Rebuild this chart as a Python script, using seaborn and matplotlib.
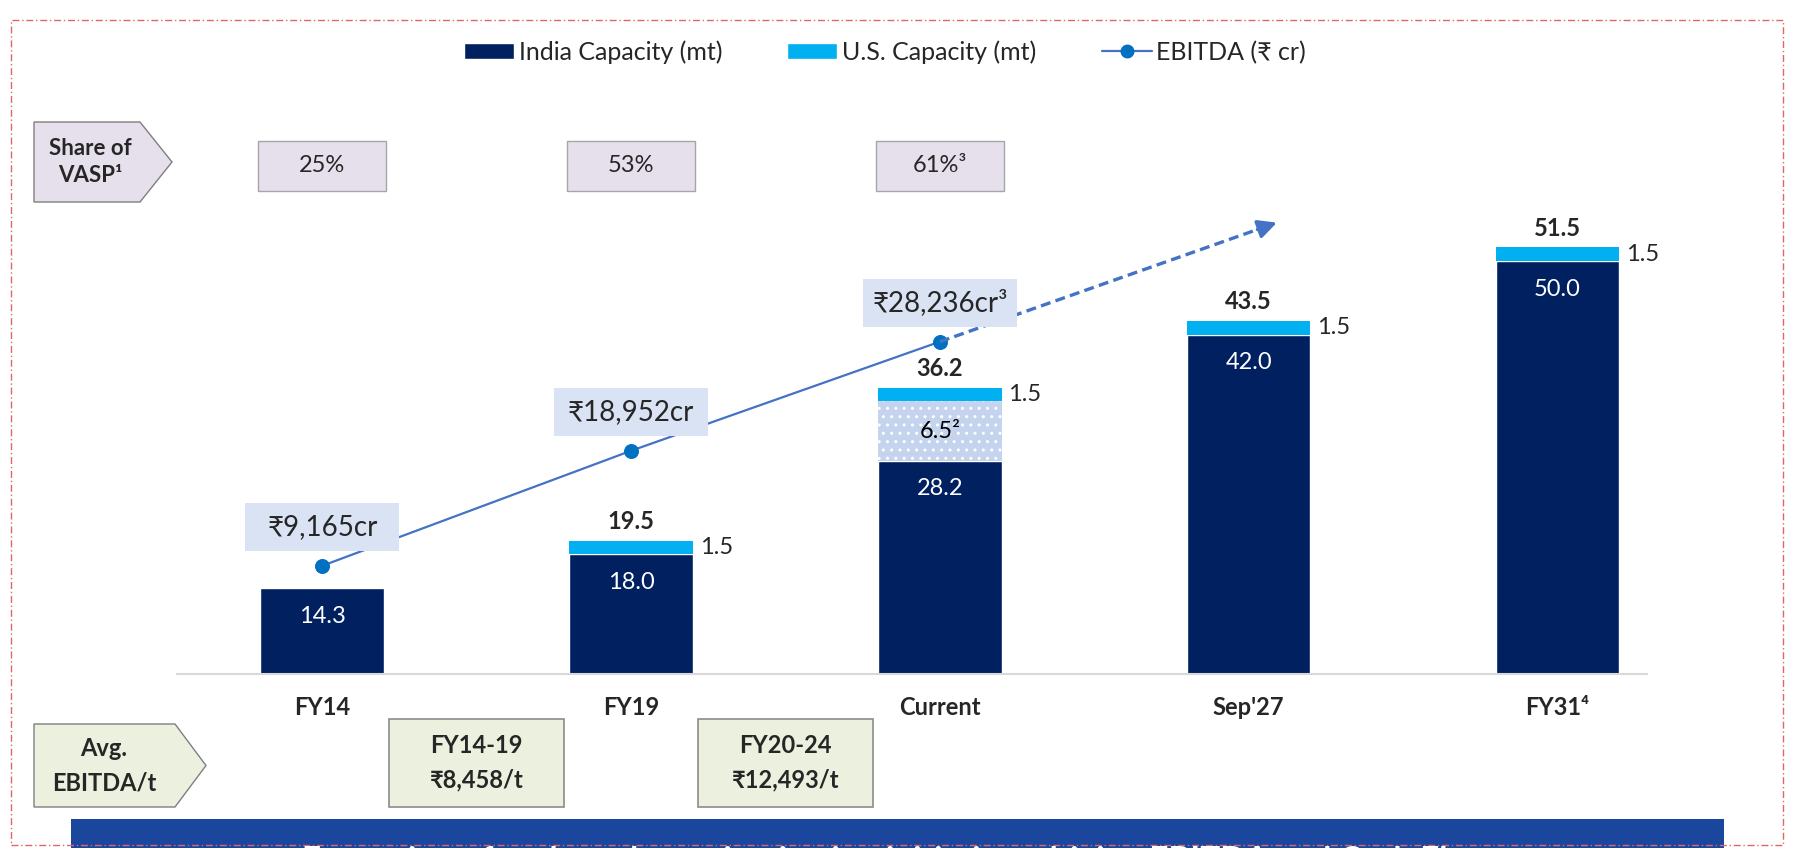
import numpy as np
import pandas as pd
import matplotlib.pyplot as plt
import seaborn as sns
from matplotlib.patches import Rectangle, Polygon, Patch
from matplotlib.lines import Line2D

# values
periods = ["FY14", "FY19", "Current", "Sep'27", "FY31"]
period_labels = ["FY14", "FY19", "Current", "Sep'27", "FY31⁴"]
india_cap = [14.3, 18.0, 28.2, 42.0, 50.0]
dotted_cap = [0, 0, 6.5, 0, 0]
dotted_labels = ["", "", "6.5²", "", ""]
us_cap = [0, 1.5, 1.5, 1.5, 1.5]
ebitda = [9165, 18952, 28236]
ebitda_labels = ["₹9,165cr", "₹18,952cr", "₹28,236cr³"]
vasp_share = ["25%", "53%", "61%³"]
avg_ebitda_t = ["FY14-19\n₹8,458/t", "FY20-24\n₹12,493/t"]
banner_text = "Expansion of scale and premiumisation initiatives driving EBITDA and Cash Flow"

NAVY = "#002060"
CYAN = "#00B0F0"
DOTS = "#C5D4EE"
LINE = "#4472C4"
DOT = "#0070C0"

sns.set_style("white")
plt.rcParams['font.family'] = ['Lato', 'Noto Sans', 'DejaVu Sans']
plt.rcParams['hatch.linewidth'] = 1.0

W, H = 1793, 848
fig = plt.figure(figsize=(W / 100, H / 100), dpi=100)


def fx(x):
    return x / W


def fy(y):
    # pixel measured from the top
    return 1 - y / H


ax = fig.add_axes([fx(177), fy(673.5), fx(1647) - fx(177), (673.5 - 78) / H])

df = pd.DataFrame({"period": periods, "india": india_cap})
sns.barplot(data=df, x="period", y="india", color=NAVY, saturation=1,
            width=0.4, ax=ax)

x = np.arange(len(periods))
india = np.array(india_cap)
dotted = np.array(dotted_cap)
us = np.array(us_cap)
ax.bar(x, dotted, bottom=india, width=0.4, color=DOTS, edgecolor="white",
       hatch="..", linewidth=0)
ax.bar(x, us, bottom=india + dotted, width=0.4, color=CYAN, linewidth=0)

ax.set_xlim(-0.47, 4.29)
ax.set_ylim(5, 70)
ax.set_xlabel("")
ax.set_ylabel("")
ax.set_yticks([])
ax.set_xticks(x)
ax.set_xticklabels(period_labels, fontsize=17, fontweight="bold")
ax.tick_params(axis="x", length=0, pad=16)
for s in ["top", "left", "right"]:
    ax.spines[s].set_visible(False)
ax.spines["bottom"].set_color("#D9D9D9")
ax.spines["bottom"].set_linewidth(1.5)

# bar labels
totals = india + dotted + us
for i in range(len(periods)):
    ax.annotate(f"{india[i]:.1f}", (x[i], india[i]), xytext=(0, -20),
                textcoords="offset points", ha="center", va="center",
                color="white", fontsize=17)
    if dotted[i] > 0:
        ax.text(x[i], india[i] + dotted[i] / 2, dotted_labels[i],
                ha="center", va="center", fontsize=17, color="black")
    if us[i] > 0:
        ax.annotate(f"{us[i]:.1f}", (x[i] + 0.2, totals[i] - us[i] / 2),
                    xytext=(5, 0), textcoords="offset points",
                    ha="left", va="center", fontsize=17)
        ax.annotate(f"{totals[i]:.1f}", (x[i], totals[i]), xytext=(0, 14),
                    textcoords="offset points", ha="center", va="center",
                    fontsize=17, fontweight="bold")

# EBITDA line on a second axis
ax2 = ax.twinx()
ax2.set_position(ax.get_position())
sns.lineplot(x=x[:len(ebitda)], y=ebitda, ax=ax2, color=LINE, linewidth=1.6,
             marker="o", markersize=10, markerfacecolor=DOT,
             markeredgecolor=DOT)
ax2.set_ylim(0, 50680)
ax2.set_xlim(-0.47, 4.29)
ax2.set_yticks([])
ax2.set_ylabel("")
for s in ax2.spines.values():
    s.set_visible(False)

# dashed trend arrow continuing the last step
slope = ebitda[-1] - ebitda[-2]
x_end = x[len(ebitda) - 1] + 1.1
y_end = ebitda[-1] + slope * 1.1
ax2.plot([x[len(ebitda) - 1], x_end - 0.05], [ebitda[-1], y_end - slope * 0.05],
         color=LINE, linestyle=(0, (3, 1.6)), linewidth=2.4)
ax2.annotate("", xy=(x_end, y_end), xytext=(x_end - 0.08, y_end - slope * 0.08),
             arrowprops=dict(arrowstyle="-|>", color=LINE, lw=2.4,
                             mutation_scale=28))

# EBITDA label boxes
for i, lab in enumerate(ebitda_labels):
    px, py = ax2.transData.transform((x[i], ebitda[i]))
    cy = H - py - 39
    fig.add_artist(Rectangle((fx(px - 77), fy(cy + 24)), 154 / W, 48 / H,
                             transform=fig.transFigure, facecolor="#DAE3F3",
                             edgecolor="none"))
    fig.text(fx(px), fy(cy), lab, ha="center", va="center", fontsize=20)

# top legend
handles = [Patch(facecolor=NAVY), Patch(facecolor=CYAN),
           Line2D([0], [0], color=LINE, lw=1.6, marker="o", markersize=9,
                  markerfacecolor=DOT, markeredgecolor=DOT)]
fig.legend(handles, ["India Capacity (mt)", "U.S. Capacity (mt)", "EBITDA (₹ cr)"],
           loc="center", bbox_to_anchor=(fx(885), fy(52)), ncol=3,
           frameon=False, fontsize=18, handlelength=2.0, handleheight=0.6,
           handletextpad=0.2, columnspacing=2.6)

# share of VASP row
fig.add_artist(Polygon([(fx(34), fy(122)), (fx(140), fy(122)), (fx(172), fy(162)),
                        (fx(140), fy(202)), (fx(34), fy(202))],
                       closed=True, transform=fig.transFigure,
                       facecolor="#E6E0EC", edgecolor="#7F7F7F", lw=1))
fig.text(fx(90), fy(162), "Share of\nVASP¹", ha="center", va="center",
         fontsize=16, fontweight="bold", linespacing=1.3)
for i, lab in enumerate(vasp_share):
    px, _ = ax.transData.transform((x[i], 10))
    fig.add_artist(Rectangle((fx(px - 64), fy(191)), 128 / W, 50 / H,
                             transform=fig.transFigure, facecolor="#E6E0EC",
                             edgecolor="#A6A6A6", lw=1))
    fig.text(fx(px), fy(166), lab, ha="center", va="center", fontsize=17)

# average EBITDA per tonne row
fig.add_artist(Polygon([(fx(34), fy(724)), (fx(175), fy(724)), (fx(206), fy(765.5)),
                        (fx(175), fy(807)), (fx(34), fy(807))],
                       closed=True, transform=fig.transFigure,
                       facecolor="#EBF1DE", edgecolor="#7F7F7F", lw=1))
fig.text(fx(104), fy(765.5), "Avg.\nEBITDA/t", ha="center", va="center",
         fontsize=17, fontweight="bold", linespacing=1.6)
for i, lab in enumerate(avg_ebitda_t):
    p0, _ = ax.transData.transform((x[i], 10))
    p1, _ = ax.transData.transform((x[i + 1], 10))
    cx = (p0 + p1) / 2
    fig.add_artist(Rectangle((fx(cx - 87.5), fy(807)), 175 / W, 88 / H,
                             transform=fig.transFigure, facecolor="#EBF1DE",
                             edgecolor="#8C8C8C", lw=1.2))
    fig.text(fx(cx), fy(763), lab, ha="center", va="center", fontsize=17,
             fontweight="bold", linespacing=1.6)

# bottom banner (cut by the slide edge)
fig.add_artist(Rectangle((fx(71), fy(860)), (1724 - 71) / W, 41 / H,
                         transform=fig.transFigure, facecolor="#1A479D",
                         edgecolor="none"))
fig.text(fx(898), fy(870), banner_text, ha="center", va="baseline",
         fontsize=24, fontweight="bold", color="white")

# dashed frame
fig.add_artist(Rectangle((fx(11), fy(845)), (1783 - 11) / W, (845 - 20) / H,
                         transform=fig.transFigure, fill=False,
                         edgecolor="#E06666", lw=1, linestyle=(0, (5, 2, 1, 2))))

fig.savefig("out.png", dpi=100)
